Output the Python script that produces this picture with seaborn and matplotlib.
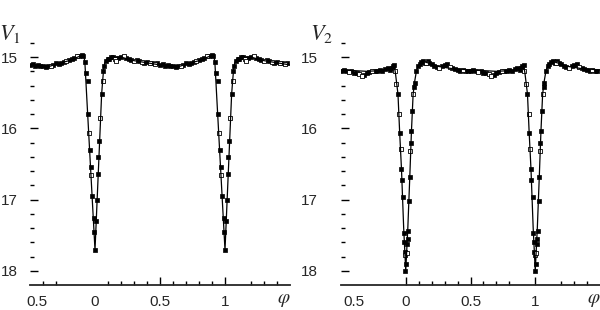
import matplotlib
matplotlib.use("Agg")
import matplotlib.pyplot as plt
import numpy as np
import pandas as pd
import seaborn as sns

# one phase cycle (-0.5 .. 0.5), drawn again shifted by one period
v1_phase = [-0.50, -0.48, -0.46, -0.44, -0.42, -0.40, -0.38, -0.36, -0.32, -0.30,
            -0.28, -0.26, -0.24, -0.20, -0.18, -0.16, -0.12, -0.10, -0.09,
            -0.078, -0.066, -0.056, -0.051, -0.037, -0.031, -0.02, -0.01, -0.006, 0.0,
            0.008, 0.014, 0.02, 0.026, 0.033, 0.051, 0.065, 0.072, 0.085, 0.097,
            0.11, 0.12, 0.136,
            0.18, 0.20, 0.24, 0.26, 0.28, 0.32, 0.34, 0.38, 0.40, 0.44, 0.48]
v1_mag = [15.11, 15.10, 15.12, 15.11, 15.13, 15.12, 15.14, 15.13, 15.11, 15.09,
          15.10, 15.08, 15.07, 15.04, 15.02, 15.01, 14.98, 14.97, 14.99,
          15.07, 15.22, 15.33, 15.80, 16.30, 16.55, 16.95, 17.26, 17.45, 17.71,
          17.30, 17.00, 16.64, 16.40, 16.18, 15.52, 15.20, 15.12, 15.05, 15.03,
          15.02, 15.00, 15.00,
          15.01, 15.00, 15.01, 15.03, 15.04, 15.04, 15.06, 15.08, 15.07, 15.08, 15.09]
v1_open_phase = [-0.34, -0.22, -0.14, -0.044, -0.029, 0.042, 0.059, 0.15, 0.16,
                 0.22, 0.30, 0.36, 0.42, 0.46]
v1_open_mag = [15.12, 15.06, 14.99, 16.06, 16.65, 15.85, 15.33, 15.02, 15.05,
               14.99, 15.05, 15.07, 15.09, 15.10]
v1_fit_phase = [-0.5, -0.4, -0.35, -0.3, -0.2, -0.12, -0.085, -0.078, 0.0, 0.051,
                0.059, 0.066, 0.075, 0.09, 0.12, 0.2, 0.3, 0.4, 0.5]
v1_fit_mag = [15.11, 15.12, 15.13, 15.10, 15.05, 14.99, 14.99, 15.07, 17.71, 15.52,
              15.33, 15.18, 15.08, 15.03, 15.00, 15.00, 15.05, 15.08, 15.11]

v2_phase = [-0.50, -0.48, -0.46, -0.42, -0.40, -0.38, -0.32, -0.30, -0.28, -0.24,
            -0.22, -0.20, -0.18, -0.16, -0.14, -0.12, -0.11, -0.10, -0.09,
            -0.06, -0.047, -0.033, -0.029, -0.021, -0.016, -0.012, -0.008, -0.002,
            0.005, 0.01, 0.014, 0.018, 0.026, 0.031, 0.040, 0.044, 0.052, 0.065,
            0.07, 0.083, 0.095, 0.109, 0.12, 0.134,
            0.15, 0.17, 0.18, 0.20, 0.22, 0.24, 0.28, 0.30, 0.32, 0.36, 0.38,
            0.40, 0.42, 0.46, 0.48]
v2_mag = [15.19, 15.18, 15.20, 15.20, 15.22, 15.23, 15.25, 15.23, 15.21, 15.19,
          15.20, 15.18, 15.19, 15.17, 15.16, 15.18, 15.15, 15.13, 15.11,
          15.52, 16.06, 16.57, 16.72, 16.97, 17.47, 17.60, 17.73, 18.00,
          17.91, 17.63, 17.55, 17.44, 17.02, 16.69, 16.20, 16.04, 15.75, 15.42,
          15.36, 15.19, 15.13, 15.10, 15.07, 15.05,
          15.09, 15.06, 15.09, 15.10, 15.12, 15.14, 15.12, 15.11, 15.10, 15.16, 15.17,
          15.18, 15.19, 15.20, 15.19]
v2_open_phase = [-0.44, -0.36, -0.34, -0.26, -0.085, -0.072, -0.052, -0.039, -0.005,
                 0.008, 0.036, 0.057, 0.16, 0.26, 0.34, 0.44]
v2_open_mag = [15.21, 15.24, 15.27, 15.20, 15.20, 15.38, 15.80, 16.29, 17.78,
               17.75, 16.32, 15.52, 15.08, 15.15, 15.14, 15.18]
v2_fit_phase = [-0.5, -0.4, -0.3, -0.2, -0.12, -0.1, -0.09, -0.08, -0.06, -0.047,
                -0.033, -0.016, 0.0, 0.016, 0.031, 0.044, 0.057, 0.07, 0.083, 0.1,
                0.13, 0.17, 0.25, 0.35, 0.5]
v2_fit_mag = [15.18, 15.19, 15.20, 15.19, 15.17, 15.13, 15.11, 15.22, 15.52, 16.06,
              16.57, 17.4, 18.0, 17.4, 16.69, 16.04, 15.52, 15.33, 15.19, 15.11,
              15.06, 15.08, 15.13, 15.16, 15.18]

cycles = [0, 1]
x_tick_labels = ["0.5", "0", "0.5", "1"]
y_major = [15, 16, 17, 18]
y_minor = [14.8, 15.2, 15.4, 15.6, 15.8, 16.2, 16.4, 16.6, 16.8,
           17.2, 17.4, 17.6, 17.8]


def folded(phase, mag):
    frames = [pd.DataFrame({"phase": np.asarray(phase) + c, "mag": mag, "cycle": c})
              for c in cycles]
    return pd.concat(frames, ignore_index=True)


def draw_panel(ax, name, phase, mag, open_phase, open_mag, fit_phase, fit_mag,
               label_shift, hide_zero_tick, minor_x, ypad):
    fit = folded(fit_phase, fit_mag)
    for _, part in fit.groupby("cycle"):
        sns.lineplot(data=part, x="phase", y="mag", sort=False, estimator=None,
                     color="black", linewidth=0.9, ax=ax, legend=False)
    sns.scatterplot(data=folded(phase, mag), x="phase", y="mag", marker="s", s=7,
                    color="black", edgecolor="black", linewidth=0.5, ax=ax, legend=False)
    sns.scatterplot(data=folded(open_phase, open_mag), x="phase", y="mag", marker="s",
                    s=7, facecolor="white", edgecolor="black", linewidth=0.6, ax=ax,
                    legend=False)

    ax.set_xlim(-0.5, 1.5)
    ax.set_ylim(18.2, 14.6)
    ax.set_xlabel("")
    ax.set_ylabel("")
    for side in ["top", "right", "left"]:
        ax.spines[side].set_visible(False)
    ax.spines["bottom"].set_linewidth(1.3)

    ax.set_xticks([-0.5 + label_shift, 0, 0.5, 1])
    ax.set_xticklabels(x_tick_labels)
    ax.set_xticks(minor_x, minor=True)
    ax.set_yticks(y_major)
    ax.set_yticklabels([str(v) for v in y_major])
    ax.set_yticks(y_minor, minor=True)
    ax.tick_params(which="both", direction="in", color="black", width=1.0,
                   bottom=True, left=True, top=False, right=False)
    ax.tick_params(which="major", length=5.5)
    ax.tick_params(which="minor", length=2.6)
    ax.tick_params(axis="x", which="major", pad=7, labelsize=11)
    ax.tick_params(axis="y", which="major", pad=ypad, labelsize=11)

    hidden = [0] + ([1] if hide_zero_tick else [])
    for i, tick in enumerate(ax.xaxis.get_major_ticks()):
        if i in hidden:
            tick.tick1line.set_visible(False)

    ax.annotate(r"$\varphi$", xy=(1.45, 0), xycoords=("data", "axes fraction"),
                xytext=(0, -11.5), textcoords="offset points", ha="center",
                va="center", fontsize=14)
    ax.text(-0.12, 1.02, name, transform=ax.transAxes, fontsize=16,
            ha="left", va="top")


sns.set_style("white")
plt.rcParams["font.family"] = ["Liberation Sans", "DejaVu Sans"]
plt.rcParams["mathtext.fontset"] = "stix"

fig = plt.figure(figsize=(6.0, 3.1), dpi=100)
ax1 = fig.add_axes([30 / 600, 25 / 310, 260 / 600, 256.4 / 310])
ax2 = fig.add_axes([341 / 600, 25 / 310, 259 / 600, 256.4 / 310])

draw_panel(ax1, r"$V_{\mathit{1}}$", v1_phase, v1_mag, v1_open_phase, v1_open_mag,
           v1_fit_phase, v1_fit_mag, 0.05, True,
           [-0.4, -0.3, 0.1, 0.2, 0.3, 0.4, 0.6, 0.7, 0.8, 0.9, 1.2, 1.3, 1.4], 9)
draw_panel(ax2, r"$V_{\mathit{2}}$", v2_phase, v2_mag, v2_open_phase, v2_open_mag,
           v2_fit_phase, v2_fit_mag, 0.1, False,
           [-0.4, 0.1, 0.2, 0.3, 0.4, 0.6, 0.7, 0.8, 1.2, 1.3, 1.4], 17)

fig.savefig("out.png", dpi=100)
plt.close(fig)
